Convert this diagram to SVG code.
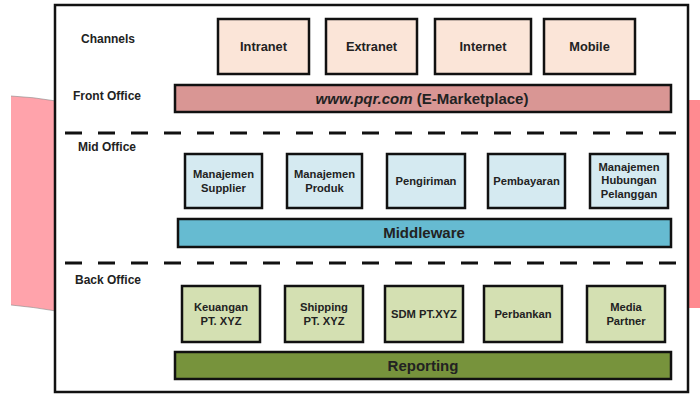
<svg xmlns="http://www.w3.org/2000/svg" width="700" height="394" viewBox="0 0 700 394">
<style>
text{font-family:"Liberation Sans",Arial,sans-serif;font-weight:bold;fill:#222;text-anchor:middle}
.lbl{text-anchor:start;font-size:12px}
.box{stroke:#111;stroke-width:2.5}
.ch{fill:#fbe5d8}
.mid{fill:#d5eaf1}
.back{fill:#d4e0b2}
.bt{font-size:11.2px}
.dash{stroke:#111;stroke-width:2.8;stroke-dasharray:17 16;fill:none}
</style>
<path d="M11 96 Q33 97 56 101 L56 311 Q33 307 11 305 Z" fill="#ffa3ab"/>
<path d="M11 96 Q33 97 56 101" fill="none" stroke="#888" stroke-width="1" opacity="0.6"/>
<path d="M11 305 Q33 307 56 311" fill="none" stroke="#888" stroke-width="1" opacity="0.6"/>
<rect x="689" y="100" width="11" height="208" fill="#ff8a90"/>
<rect x="55" y="5" width="633" height="387" fill="#fff" stroke="#111" stroke-width="2.5"/>
<text class="lbl" x="81" y="42.5">Channels</text>
<text class="lbl" x="73" y="100">Front Office</text>
<text class="lbl" x="78" y="151">Mid Office</text>
<text class="lbl" x="75" y="284">Back Office</text>
<g id="connectors">
<line class="dash" x1="65" y1="133" x2="688" y2="133"/>
<line class="dash" x1="65" y1="263" x2="688" y2="263"/>
</g>
<g id="intranet"><rect class="box ch" x="218" y="19" width="91" height="55"/><text x="263.5" y="51" font-size="12.8">Intranet</text></g>
<g id="extranet"><rect class="box ch" x="326" y="19" width="91" height="55"/><text x="371.5" y="51" font-size="12.8">Extranet</text></g>
<g id="internet"><rect class="box ch" x="435" y="19" width="96" height="55"/><text x="483" y="51" font-size="12.8">Internet</text></g>
<g id="mobile"><rect class="box ch" x="544" y="19" width="91" height="55"/><text x="589.5" y="51" font-size="12.8">Mobile</text></g>
<g id="frontoffice"><rect class="box" x="175" y="85" width="496" height="27" fill="#d99694"/><text x="422" y="103.5" font-size="15"><tspan font-style="italic">www.pqr.com</tspan> (E-Marketplace)</text></g>
<g id="supplier"><rect class="box mid" x="185" y="154" width="77" height="54"/><text class="bt" x="223.5" y="178">Manajemen</text><text class="bt" x="223.5" y="191.5">Supplier</text></g>
<g id="produk"><rect class="box mid" x="287" y="154" width="75" height="54"/><text class="bt" x="324.5" y="178">Manajemen</text><text class="bt" x="324.5" y="191.5">Produk</text></g>
<g id="pengiriman"><rect class="box mid" x="387" y="154" width="78" height="54"/><text class="bt" x="426" y="185">Pengiriman</text></g>
<g id="pembayaran"><rect class="box mid" x="488" y="154" width="77" height="54"/><text class="bt" x="526.5" y="185">Pembayaran</text></g>
<g id="pelanggan"><rect class="box mid" x="590" y="154" width="78" height="54"/><text class="bt" x="629" y="170.5">Manajemen</text><text class="bt" x="629" y="184">Hubungan</text><text class="bt" x="629" y="197.5">Pelanggan</text></g>
<g id="middleware"><rect class="box" x="178" y="219" width="493" height="28" fill="#66bbd1"/><text x="424" y="238" font-size="15" fill="#1c2d40">Middleware</text></g>
<g id="keuangan"><rect class="box back" x="182" y="286" width="78" height="56"/><text class="bt" x="221" y="311">Keuangan</text><text class="bt" x="221" y="324.5">PT. XYZ</text></g>
<g id="shipping"><rect class="box back" x="285" y="286" width="78" height="56"/><text class="bt" x="324" y="311">Shipping</text><text class="bt" x="324" y="324.5">PT. XYZ</text></g>
<g id="sdm"><rect class="box back" x="385" y="286" width="78" height="56"/><text class="bt" x="424" y="318">SDM PT.XYZ</text></g>
<g id="perbankan"><rect class="box back" x="484" y="286" width="78" height="56"/><text class="bt" x="523" y="318">Perbankan</text></g>
<g id="media"><rect class="box back" x="587" y="286" width="78" height="56"/><text class="bt" x="626" y="311">Media</text><text class="bt" x="626" y="324.5">Partner</text></g>
<g id="reporting"><rect class="box" x="175" y="352" width="496" height="27" fill="#77933c"/><text x="423" y="370.5" font-size="15">Reporting</text></g>
</svg>
